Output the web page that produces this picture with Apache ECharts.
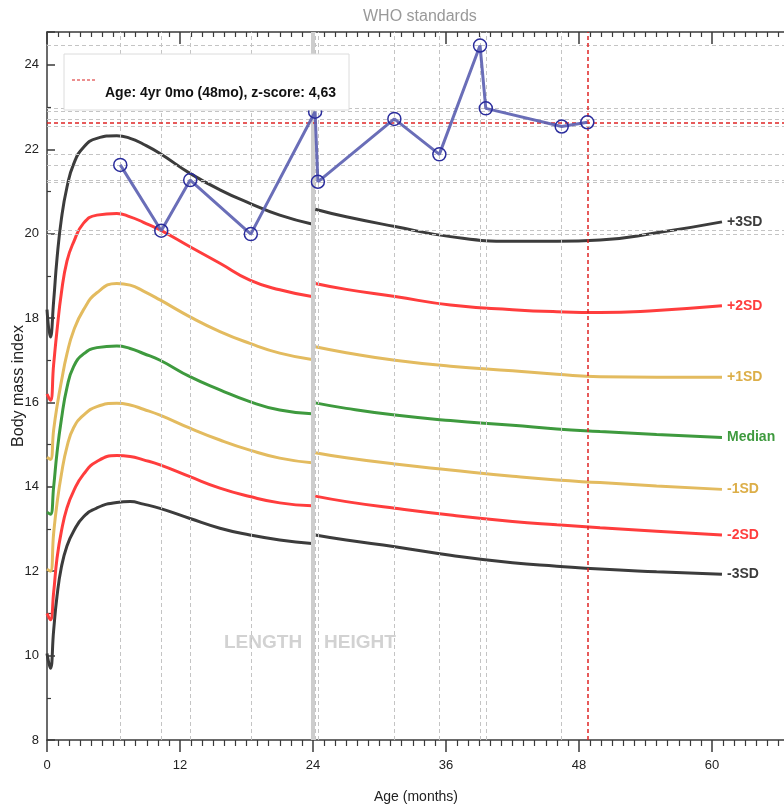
<!DOCTYPE html>
<html>
<head>
<meta charset="utf-8">
<script src="https://cdn.jsdelivr.net/npm/echarts@6/dist/echarts.min.js"></script>
<style>
  html, body { margin: 0; padding: 0; background: #fff; }
  #chart { width: 784px; height: 807px; }
</style>
</head>
<body>
<div id="chart"></div>
<script>
// WHO BMI-for-age reference curves
const lengthAges = [0, 0.3, 0.6, 0.9, 1.3, 1.8, 2.4, 3.3, 4.5, 6.3, 7.5, 8.7, 10.2, 12.9, 15.6, 18.3, 21.0, 23.9];
const heightAges = [24.2, 27, 31.4, 36.4, 42, 46, 49.9, 55, 60.9];

const plus3Length = [18.2, 17.55, 18.4, 19.4, 20.35, 21.1, 21.65, 22.05, 22.26, 22.32, 22.26, 22.12, 21.9, 21.43, 21.04, 20.72, 20.44, 20.23];
const plus2Length = [16.2, 16.05, 16.9, 17.7, 18.6, 19.35, 19.8, 20.25, 20.44, 20.48, 20.4, 20.27, 20.09, 19.69, 19.3, 18.9, 18.67, 18.51];
const plus1Length = [14.7, 14.65, 15.35, 15.9, 16.5, 17.15, 17.7, 18.2, 18.6, 18.82, 18.78, 18.64, 18.43, 18.03, 17.68, 17.4, 17.17, 17.02];
const medianLength = [13.4, 13.35, 14.0, 14.8, 15.6, 16.35, 16.85, 17.15, 17.3, 17.34, 17.28, 17.16, 17.0, 16.61, 16.3, 16.02, 15.82, 15.73];
const minus1Length = [12.05, 12.0, 12.9, 13.6, 14.3, 14.95, 15.4, 15.7, 15.9, 15.98, 15.94, 15.84, 15.7, 15.39, 15.11, 14.87, 14.68, 14.57];
const minus2Length = [11.0, 10.85, 11.5, 12.3, 12.95, 13.5, 13.9, 14.3, 14.6, 14.74, 14.72, 14.64, 14.52, 14.24, 13.97, 13.77, 13.62, 13.55];
const minus3Length = [10.05, 9.7, 10.6, 11.4, 12.1, 12.6, 12.95, 13.29, 13.5, 13.63, 13.65, 13.59, 13.49, 13.25, 13.02, 12.86, 12.74, 12.66];

const plus3Height = [20.58, 20.4, 20.17, 19.93, 19.82, 19.82, 19.85, 20.02, 20.28];
const plus2Height = [18.82, 18.68, 18.51, 18.31, 18.2, 18.15, 18.13, 18.18, 18.29];
const plus1Height = [17.32, 17.18, 17.0, 16.86, 16.75, 16.67, 16.61, 16.6, 16.6];
const medianHeight = [15.99, 15.86, 15.7, 15.57, 15.46, 15.37, 15.31, 15.24, 15.17];
const minus1Height = [14.81, 14.69, 14.54, 14.4, 14.25, 14.16, 14.1, 14.02, 13.94];
const minus2Height = [13.78, 13.65, 13.49, 13.33, 13.18, 13.1, 13.03, 12.95, 12.86];
const minus3Height = [12.86, 12.74, 12.58, 12.38, 12.2, 12.12, 12.05, 11.99, 11.93];

// child measurements
const childAges = [6.61, 10.31, 12.92, 18.39, 24.19, 24.44, 31.34, 35.4, 39.07, 39.59, 46.44, 48.75];
const childBmi = [21.63, 20.07, 21.27, 19.99, 22.89, 21.23, 22.72, 21.88, 24.46, 22.97, 22.54, 22.64];

const curveNames = ["+3SD", "+2SD", "+1SD", "Median", "-1SD", "-2SD", "-3SD"];
const curveColors = ["#3c3c3c", "#ff3d3d", "#e3bb5f", "#3e9a3e", "#e3bb5f", "#ff3d3d", "#3c3c3c"];
const lengthCurves = [plus3Length, plus2Length, plus1Length, medianLength, minus1Length, minus2Length, minus3Length];
const heightCurves = [plus3Height, plus2Height, plus1Height, medianHeight, minus1Height, minus2Height, minus3Height];

const chartTitle = "WHO standards";
const legendText = "Age: 4yr 0mo (48mo), z-score: 4,63";
const switchAge = 24;

const FONT = "'Liberation Sans', Arial, sans-serif";

const chart = echarts.init(document.getElementById("chart"));

const series = [];
curveNames.forEach((name, i) => {
  series.push({
    name: name,
    type: "line",
    data: lengthAges.map((a, k) => [a, lengthCurves[i][k]]),
    smooth: 0.5,
    showSymbol: false,
    lineStyle: { color: curveColors[i], width: 3 },
    z: 3,
    silent: true,
  });
  series.push({
    name: name,
    type: "line",
    data: heightAges.map((a, k) => [a, heightCurves[i][k]]),
    smooth: 0.5,
    showSymbol: false,
    lineStyle: { color: curveColors[i], width: 3 },
    z: 3,
    silent: true,
    endLabel: {
      show: true,
      formatter: name,
      color: curveColors[i] === "#e3bb5f" ? "#dcae48" : curveColors[i],
      fontFamily: FONT,
      fontWeight: "bold",
      fontSize: 14,
      distance: 5,
    },
  });
});

// dashed guide lines through each earlier measurement + length/height switch
const last = childAges.length - 1;
const guideLines = [];
childAges.forEach((a, k) => {
  if (k === last) return;
  guideLines.push({ xAxis: a });
  guideLines.push({ yAxis: childBmi[k] });
});
series.push({
  type: "line",
  data: [],
  z: 1,
  silent: true,
  markLine: {
    symbol: "none",
    silent: true,
    animation: false,
    label: { show: false },
    lineStyle: { color: "#c4c4c4", type: [4, 3], width: 1 },
    data: guideLines,
  },
});
series.push({
  type: "line",
  data: [],
  z: 2,
  silent: true,
  markLine: {
    symbol: "none",
    silent: true,
    animation: false,
    label: { show: false },
    lineStyle: { color: "#cdcdcd", type: "solid", width: 4 },
    data: [{ xAxis: switchAge }],
  },
});
// current measurement crosshair (red)
series.push({
  type: "line",
  data: [],
  z: 2,
  silent: true,
  markLine: {
    symbol: "none",
    silent: true,
    animation: false,
    label: { show: false },
    lineStyle: { color: "#e02424", type: [4, 3], width: 1.5 },
    data: [{ xAxis: childAges[last] }, { yAxis: childBmi[last] }],
  },
});

series.push({
  name: "child",
  type: "line",
  data: childAges.map((a, k) => [a, childBmi[k]]),
  symbol: "circle",
  symbolSize: 13,
  showAllSymbol: true,
  lineStyle: { color: "#5a5eb0", width: 3, opacity: 0.9 },
  itemStyle: { color: "rgba(255,255,255,0)", borderColor: "#2a2c9c", borderWidth: 1.5 },
  z: 5,
});

const axisLine = { show: true, lineStyle: { color: "#3a3a3a", width: 1.5 } };

const option = {
  animation: false,
  backgroundColor: "#fff",
  title: {
    text: chartTitle,
    left: 358,
    top: 4,
    textStyle: { fontFamily: FONT, fontSize: 16, fontWeight: "normal", color: "#999" },
  },
  grid: { left: 47, right: -61, top: 32, bottom: 67, outerBoundsMode: "none", containLabel: false },
  xAxis: [
    {
      type: "value",
      position: "bottom",
      min: 0,
      max: 72,
      interval: 12,
      name: "Age (months)",
      nameLocation: "middle",
      nameGap: 50,
      nameMoveOverlap: false,
      nameTextStyle: { fontFamily: FONT, fontSize: 14, color: "#222", padding: [0, 60, 0, 0] },
      axisLine: axisLine,
      axisTick: { show: true, length: 12, lineStyle: { color: "#3a3a3a", width: 1.5 } },
      minorTick: { show: true, splitNumber: 12, length: 6, lineStyle: { color: "#3a3a3a", width: 1.2 } },
      axisLabel: { fontFamily: FONT, fontSize: 13, color: "#222", margin: 19 },
      splitLine: { show: false },
    },
    {
      type: "value",
      position: "top",
      min: 0,
      max: 72,
      interval: 12,
      axisLine: axisLine,
      axisTick: { show: true, inside: true, length: 12, lineStyle: { color: "#3a3a3a", width: 1.5 } },
      minorTick: { show: true, splitNumber: 12, length: 5, lineStyle: { color: "#3a3a3a", width: 1.2 } },
      axisLabel: { show: false },
      splitLine: { show: false },
    },
  ],
  yAxis: {
    type: "value",
    min: 8,
    max: 24.78,
    interval: 2,
    name: "Body mass index",
    nameLocation: "middle",
    nameGap: 20,
    nameMoveOverlap: false,
    nameTextStyle: { fontFamily: FONT, fontSize: 16, color: "#222" },
    axisLine: axisLine,
    axisTick: { show: true, inside: true, length: 8, lineStyle: { color: "#3a3a3a", width: 1.5 } },
    minorTick: { show: true, splitNumber: 2, length: 4, lineStyle: { color: "#3a3a3a", width: 1.2 } },
    axisLabel: { fontFamily: FONT, fontSize: 13, color: "#222", margin: 8, showMaxLabel: false },
    splitLine: { show: false },
  },
  graphic: [
    {
      type: "text",
      left: 224,
      top: 633,
      z: 2,
      style: { text: "LENGTH", fontFamily: FONT, fontSize: 19, fontWeight: "bold", fill: "#d2d2d2" },
    },
    {
      type: "text",
      left: 324,
      top: 633,
      z: 2,
      style: { text: "HEIGHT", fontFamily: FONT, fontSize: 19, fontWeight: "bold", fill: "#d2d2d2" },
    },
    {
      type: "rect",
      zlevel: 1,
      z: 100,
      shape: { x: 64, y: 54, width: 285, height: 56 },
      style: { fill: "#fff", stroke: "#dcdcdc", lineWidth: 1 },
    },
    {
      type: "line",
      zlevel: 1,
      z: 101,
      shape: { x1: 72, y1: 80, x2: 95, y2: 80 },
      style: { stroke: "#d92020", lineWidth: 1.2, lineDash: [3, 2] },
    },
    {
      type: "text",
      zlevel: 1,
      z: 101,
      x: 105,
      y: 86,
      style: { text: legendText, fontFamily: FONT, fontSize: 14, fontWeight: "bold", fill: "#111" },
    },
  ],
  series: series,
};

chart.setOption(option);
</script>
</body>
</html>
